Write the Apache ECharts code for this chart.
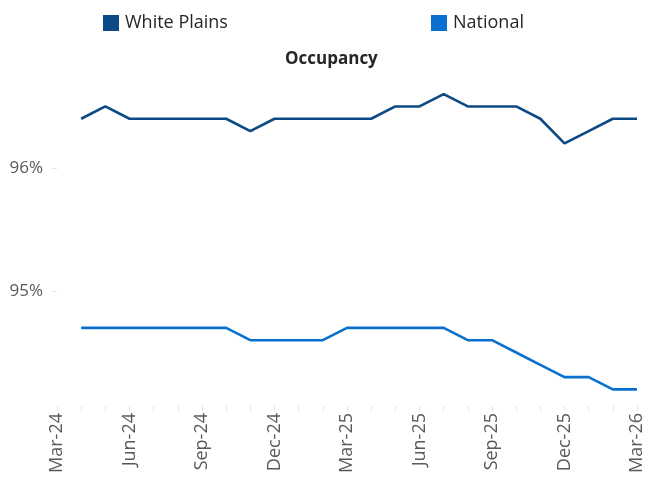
<!DOCTYPE html>
<html>
<head>
<meta charset="utf-8">
<script src="https://cdn.jsdelivr.net/npm/echarts@6/dist/echarts.min.js"></script>
<style>
  html, body { margin: 0; padding: 0; background: #fff; }
  #chart { width: 646px; height: 480px; }
</style>
</head>
<body>
<div id="chart"></div>
<script>
var months = [
  'Mar-24', 'Apr-24', 'May-24', 'Jun-24', 'Jul-24', 'Aug-24', 'Sep-24', 'Oct-24', 'Nov-24',
  'Dec-24', 'Jan-25', 'Feb-25', 'Mar-25', 'Apr-25', 'May-25', 'Jun-25', 'Jul-25', 'Aug-25',
  'Sep-25', 'Oct-25', 'Nov-25', 'Dec-25', 'Jan-26', 'Feb-26', 'Mar-26'
];
var shownLabels = ['Mar-24', 'Jun-24', 'Sep-24', 'Dec-24', 'Mar-25', 'Jun-25', 'Sep-25', 'Dec-25', 'Mar-26'];

// occupancy, percent (no value for Mar-24)
var whitePlains = [null, 96.4, 96.5, 96.4, 96.4, 96.4, 96.4, 96.4, 96.3,
  96.4, 96.4, 96.4, 96.4, 96.4, 96.5, 96.5, 96.6, 96.5,
  96.5, 96.5, 96.4, 96.2, 96.3, 96.4, 96.4];
var national = [null, 94.7, 94.7, 94.7, 94.7, 94.7, 94.7, 94.7, 94.6,
  94.6, 94.6, 94.6, 94.7, 94.7, 94.7, 94.7, 94.7, 94.6,
  94.6, 94.5, 94.4, 94.3, 94.3, 94.2, 94.2];
var yLabels = [95, 96];

var darkBlue = '#0b4a85';
var lightBlue = '#0a70cf';
var font = '"Open Sans", sans-serif';

var chart = echarts.init(document.getElementById('chart'));

var option = {
  animation: false,
  title: {
    text: 'Occupancy',
    left: 280,
    top: 46,
    textStyle: { fontFamily: font, fontSize: 17, fontWeight: 'bold', color: '#262626' }
  },
  legend: [
    {
      data: ['White Plains'],
      left: 98, top: 9,
      icon: 'rect', itemWidth: 16, itemHeight: 16,
      textStyle: { fontFamily: font, fontSize: 18, color: '#262626', padding: [0, 0, 0, 1] }
    },
    {
      data: ['National'],
      left: 426, top: 9,
      icon: 'rect', itemWidth: 16, itemHeight: 16,
      textStyle: { fontFamily: font, fontSize: 18, color: '#262626', padding: [0, 0, 0, 1] }
    }
  ],
  grid: { left: 57, right: 8, top: 80, bottom: 74 },
  xAxis: {
    type: 'category',
    data: months,
    boundaryGap: false,
    axisLine: { show: false },
    axisTick: { show: true, length: 5, lineStyle: { color: '#e3e3e3' } },
    axisLabel: {
      rotate: 90,
      margin: 7,
      interval: 0,
      fontFamily: font,
      fontSize: 18,
      color: '#595959',
      formatter: function (v) { return shownLabels.indexOf(v) >= 0 ? v : ''; }
    },
    splitLine: { show: false }
  },
  yAxis: {
    type: 'value',
    min: 94.065,
    max: 96.715,
    axisLine: { show: false },
    axisTick: { show: true, length: 5, customValues: yLabels, lineStyle: { color: '#e3e3e3' } },
    axisLabel: {
      customValues: yLabels,
      margin: 14,
      fontFamily: font,
      fontSize: 17,
      color: '#595959',
      formatter: function (v) { return Math.round(v) + '%'; }
    },
    splitLine: { show: false }
  },
  series: [
    {
      name: 'White Plains',
      type: 'line',
      data: whitePlains,
      symbol: 'none',
      color: darkBlue,
      lineStyle: { width: 2.6, color: darkBlue }
    },
    {
      name: 'National',
      type: 'line',
      data: national,
      symbol: 'none',
      color: lightBlue,
      lineStyle: { width: 2.6, color: lightBlue }
    }
  ]
};

chart.setOption(option);
</script>
</body>
</html>
